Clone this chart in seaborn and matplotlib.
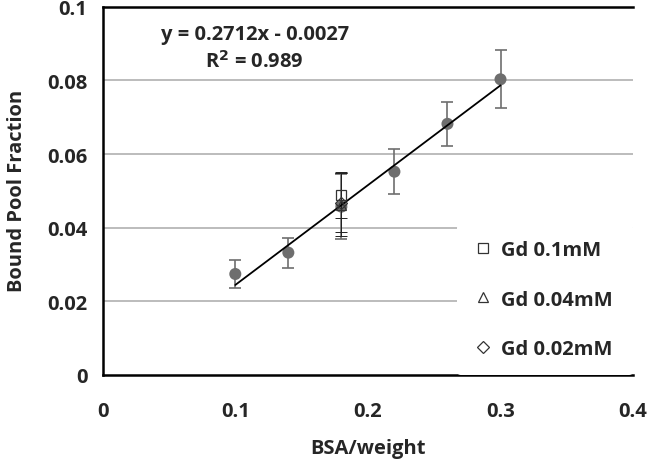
import numpy as np
import matplotlib
matplotlib.use("Agg")
import matplotlib.pyplot as plt
import seaborn as sns

sns.set_style("white")
plt.rcParams['font.family'] = ['Open Sans', 'DejaVu Sans']
plt.rcParams['font.weight'] = 'bold'

# BSA series
bsa = [0.10, 0.14, 0.18, 0.22, 0.26, 0.30]
bpf = [0.0274, 0.0332, 0.0457, 0.0552, 0.0682, 0.0803]
bpf_err = [0.0038, 0.0041, 0.0088, 0.0061, 0.0059, 0.0079]

# Gd series (all at BSA 0.18)
gd_labels = ["Gd 0.1mM", "Gd 0.04mM", "Gd 0.02mM"]
gd_markers = ["s", "^", "D"]
gd_x = [0.18, 0.18, 0.18]
gd_y = [0.0488, 0.0462, 0.0468]
gd_err = [0.0062, 0.0086, 0.0080]

# linear fit from the chart
slope = 0.2712
intercept = -0.0027
r2 = 0.989

fig, ax = plt.subplots(figsize=(6.5, 4.6), dpi=100)
fig.subplots_adjust(left=0.158, right=0.974, top=0.983, bottom=0.183)

for yv in [0.02, 0.04, 0.06, 0.08]:
    ax.axhline(yv, color="#b0b0b0", lw=1.2, zorder=0)

ax.errorbar(bsa, bpf, yerr=bpf_err, fmt="none", ecolor="#6e6e6e",
            elinewidth=1.2, capsize=4, capthick=1.2, zorder=2)
sns.scatterplot(x=bsa, y=bpf, ax=ax, color="#6e6e6e", s=75,
                edgecolor="none", zorder=3, legend=False)

for x, y, e, m, lab in zip(gd_x, gd_y, gd_err, gd_markers, gd_labels):
    ax.errorbar([x], [y], yerr=[e], fmt="none", ecolor="#222222",
                elinewidth=0.7, capsize=4, capthick=0.7, zorder=4)
    ax.plot([x], [y], linestyle="none", marker=m, markersize=7 if m != "D" else 6,
            markerfacecolor="none", markeredgecolor="#333333", markeredgewidth=0.9,
            label=lab, zorder=5)

fit_x = np.array([min(bsa), max(bsa)])
ax.plot(fit_x, slope * fit_x + intercept, color="black", lw=1.3, zorder=4)

ax.text(0.1147, 0.0926, "y = %.4fx - %.4f" % (slope, -intercept),
        ha="center", va="center", fontsize=14.5, fontweight="bold")
ax.text(0.1147, 0.0852, "R$^\\mathbf{2}$ = %.3f" % r2,
        ha="center", va="center", fontsize=14.5, fontweight="bold")

ax.set_xlim(0, 0.4)
ax.set_ylim(0, 0.1)
ax.set_xticks([0, 0.1, 0.2, 0.3, 0.4])
ax.set_xticklabels(["0", "0.1", "0.2", "0.3", "0.4"])
ax.set_yticks([0, 0.02, 0.04, 0.06, 0.08, 0.1])
ax.set_yticklabels(["0", "0.02", "0.04", "0.06", "0.08", "0.1"])
ax.tick_params(axis="both", labelsize=14.5, direction="out", length=6, width=1.5,
               color="black", pad=5)
ax.tick_params(axis="x", pad=13)
ax.set_xlabel("BSA/weight", fontsize=14.5, fontweight="bold", labelpad=12)
ax.set_ylabel("Bound Pool Fraction", fontsize=14.5, fontweight="bold")
ax.yaxis.set_label_coords(-0.143, 0.503)

for side in ["left", "bottom", "top"]:
    ax.spines[side].set_color("black")
    ax.spines[side].set_linewidth(1.8)
ax.spines["right"].set_visible(False)

leg = ax.legend(loc="lower left", bbox_to_anchor=(0.668, 0.0, 0.332, 0.4),
                mode="expand", frameon=True,
                fontsize=14.5, handlelength=1.0, handletextpad=0.4,
                labelspacing=1.45, borderpad=0.8, borderaxespad=0.0)
leg.get_frame().set_edgecolor("none")
leg.get_frame().set_facecolor("white")
leg.get_frame().set_alpha(1.0)
leg.set_zorder(6)

fig.savefig("out.png", dpi=100)
